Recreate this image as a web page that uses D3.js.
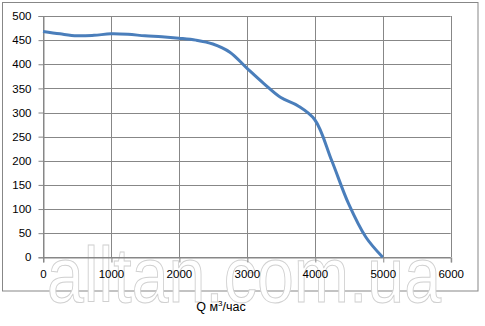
<!DOCTYPE html>
<html>
<head>
<meta charset="utf-8">
<script src="https://cdn.jsdelivr.net/npm/d3@7"></script>
<style>
  body { margin: 0; background: #fff; }
  svg { display: block; }
</style>
</head>
<body>
<div id="chart"></div>
<script>
// Q, m3/h
var flow = [0, 250, 500, 750, 1000, 1250, 1500, 1750, 2000, 2250, 2500,
            2750, 3000, 3250, 3500, 3750, 4000, 4250, 4500, 4750, 5000];
// pressure, Pa
var pressure = [468, 463, 459, 460, 463, 462, 459, 457, 454, 450, 442,
                425, 392, 360, 331, 314, 285, 200, 110, 42, 0];

var xTicks = [0, 1000, 2000, 3000, 4000, 5000, 6000];
var yTicks = [0, 50, 100, 150, 200, 250, 300, 350, 400, 450, 500];

var width = 485, height = 326,
    plot = { left: 43, right: 450.7, top: 16, bottom: 257.3 },
    gridColor = "#878787",
    fontFamily = "'Liberation Sans', Arial, sans-serif";

var svg = d3.select("#chart").append("svg")
  .attr("width", width)
  .attr("height", height);

// outer chart border
svg.append("rect")
  .attr("x", 2.5).attr("y", 2.5)
  .attr("width", 475.5).attr("height", 288.5)
  .attr("fill", "#fff")
  .attr("stroke", gridColor)
  .attr("stroke-width", 1);

// watermark
svg.append("text")
  .attr("x", 47).attr("y", 302)
  .attr("textLength", 394)
  .attr("lengthAdjust", "spacingAndGlyphs")
  .attr("font-family", fontFamily)
  .attr("font-size", 78)
  .attr("fill", "#fff")
  .attr("stroke", "#d0d0d0")
  .attr("stroke-width", 1)
  .text("alltan.com.ua");

var x = d3.scaleLinear().domain([0, 6000]).range([plot.left, plot.right]);
var y = d3.scaleLinear().domain([0, 500]).range([plot.bottom, plot.top]);

// grid
svg.append("g")
  .selectAll("line.v")
  .data(xTicks)
  .enter().append("line")
    .attr("x1", function(d) { return Math.round(x(d)) + 0.5; })
    .attr("x2", function(d) { return Math.round(x(d)) + 0.5; })
    .attr("y1", plot.top).attr("y2", plot.bottom)
    .attr("stroke", gridColor);

svg.append("g")
  .selectAll("line.h")
  .data(yTicks)
  .enter().append("line")
    .attr("x1", plot.left).attr("x2", plot.right)
    .attr("y1", function(d) { return Math.round(y(d)) + 0.5; })
    .attr("y2", function(d) { return Math.round(y(d)) + 0.5; })
    .attr("stroke", gridColor);

// axes
var xAxis = d3.axisBottom(x).tickValues(xTicks).tickSize(5).tickPadding(7)
  .tickFormat(d3.format("d"));
var yAxis = d3.axisLeft(y).tickValues(yTicks).tickSize(5).tickPadding(7)
  .tickFormat(d3.format("d"));

var gx = svg.append("g")
  .attr("transform", "translate(0," + (Math.round(plot.bottom) + 0.5) + ")")
  .call(xAxis);
var gy = svg.append("g")
  .attr("transform", "translate(" + (Math.round(plot.left) + 0.5) + ",0)")
  .call(yAxis);

[gx, gy].forEach(function(g) {
  g.select(".domain").attr("stroke", gridColor);
  g.selectAll(".tick line").attr("stroke", gridColor);
  g.selectAll(".tick text")
    .attr("fill", "#000")
    .attr("font-family", fontFamily)
    .attr("font-size", 11.5);
});
gx.selectAll(".tick line").attr("transform", "translate(0.5,0)");

// curve
var line = d3.line()
  .x(function(d, i) { return x(flow[i]); })
  .y(function(d) { return y(d); })
  .curve(d3.curveCatmullRom.alpha(0.5));

svg.append("path")
  .datum(pressure)
  .attr("d", line)
  .attr("fill", "none")
  .attr("stroke", "#4a7ebb")
  .attr("stroke-width", 3)
  .attr("stroke-linejoin", "round");

// axis title
var title = svg.append("text")
  .attr("x", 221).attr("y", 311)
  .attr("text-anchor", "middle")
  .attr("font-family", fontFamily)
  .attr("font-size", 12.5)
  .attr("fill", "#000");
title.append("tspan").text("Q м");
title.append("tspan").attr("font-size", 8).attr("dy", -5).text("3");
title.append("tspan").attr("dy", 5).text("/час");
</script>
</body>
</html>
